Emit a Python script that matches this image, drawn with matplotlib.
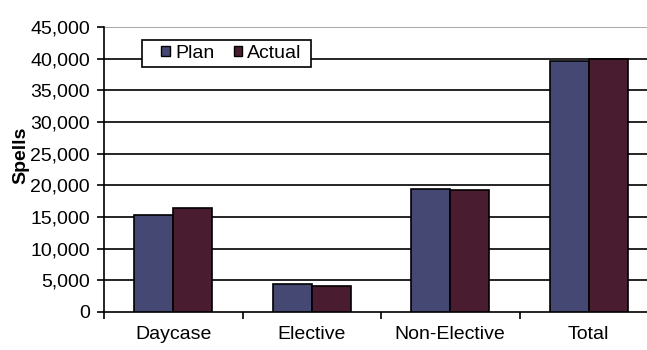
import numpy as np
import matplotlib.pyplot as plt
from matplotlib.patches import Rectangle
from matplotlib.ticker import FuncFormatter

categories = ["Daycase", "Elective", "Non-Elective", "Total"]
plan = [15300, 4400, 19500, 39600]
actual = [16400, 4100, 19300, 39900]

plt.rcParams['font.family'] = ['Liberation Sans', 'DejaVu Sans']

fig = plt.figure(figsize=(6.47, 3.5), dpi=100)
ax = fig.add_axes([104 / 647, 38 / 350, 554 / 647, 285 / 350])

x = np.arange(len(categories))
w = 0.28
ax.bar(x - w / 2, plan, w, color='#464874', edgecolor='black', linewidth=1.2,
       label='Plan', zorder=3)
ax.bar(x + w / 2, actual, w, color='#4a1c2f', edgecolor='black', linewidth=1.2,
       label='Actual', zorder=3)

ax.set_xlim(-0.5, len(categories) - 0.5)
ax.set_ylim(0, 45000)
ax.set_yticks(np.arange(0, 45001, 5000))
ax.yaxis.set_major_formatter(FuncFormatter(lambda v, p: f"{int(v):,}"))

# category labels at centres, tick marks between categories
ax.set_xticks(x)
ax.set_xticklabels(categories)
ax.set_xticks(np.arange(-0.5, len(categories), 1.0), minor=True)
ax.tick_params(axis='x', which='major', length=0, pad=10, labelsize=14)
ax.tick_params(axis='x', which='minor', length=5, width=1.2, direction='out')
ax.tick_params(axis='y', length=5, width=1.2, labelsize=14, pad=5)

for v in np.arange(5000, 45000, 5000):
    ax.axhline(v, color='black', linewidth=1.2, zorder=1)
ax.axhline(45000, color='#999999', linewidth=1.2, zorder=1)

for s in ['top', 'right']:
    ax.spines[s].set_visible(False)
for s in ['left', 'bottom']:
    ax.spines[s].set_linewidth(1.2)

ax.set_ylabel('Spells', fontsize=14, fontweight='bold')
ax.yaxis.set_label_coords(-0.135, 0.551)

# legend box drawn separately so the padding can be uneven
ax.add_patch(Rectangle((0.0686, 0.8596), 0.305, 0.0947, transform=ax.transAxes,
                       facecolor='white', edgecolor='black', linewidth=1.2,
                       zorder=4, clip_on=False))
leg = ax.legend(ncol=2, loc='center', bbox_to_anchor=(0.230, 0.907),
                fontsize=14, frameon=False, handlelength=0.45,
                handleheight=0.45, handletextpad=0.25, columnspacing=1.0,
                borderpad=0, borderaxespad=0)
leg.set_zorder(5)
for h in leg.legend_handles:
    h.set_linewidth(1.0)

fig.savefig('out.png', dpi=100)
